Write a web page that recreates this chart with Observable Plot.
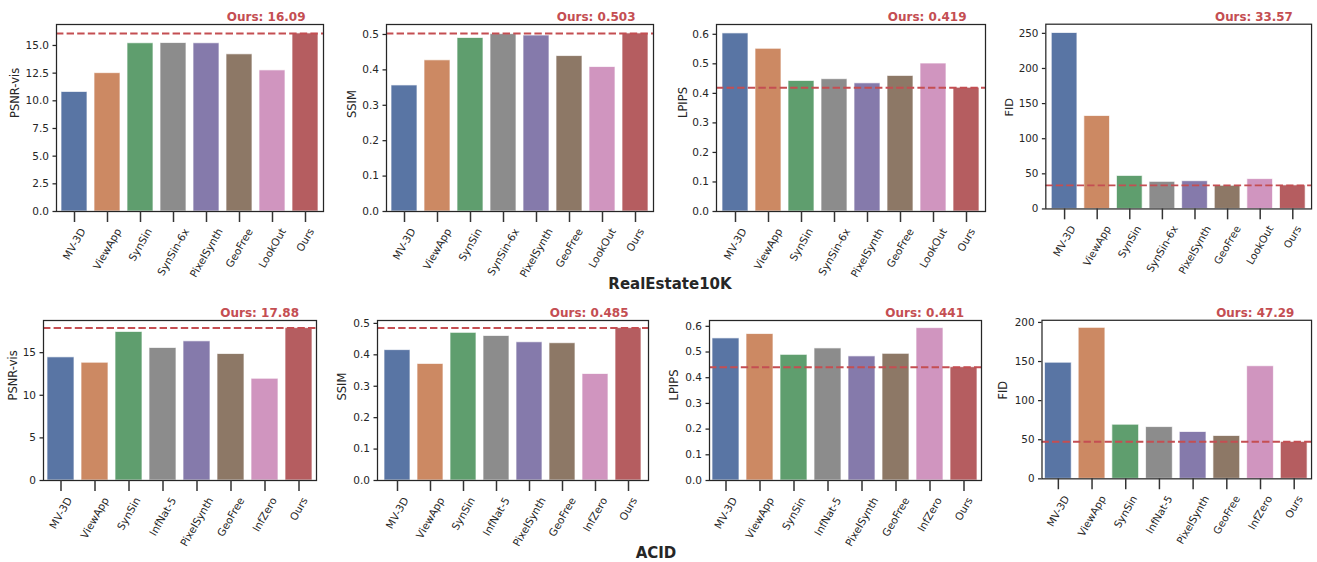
<!DOCTYPE html>
<html>
<head>
<meta charset="utf-8">
<script src="https://cdn.jsdelivr.net/npm/d3@7"></script>
<script src="https://cdn.jsdelivr.net/npm/@observablehq/plot@0.6"></script>
<style>
  html, body { margin: 0; padding: 0; background: #fff; }
  #root { position: relative; width: 1317px; height: 562px; overflow: hidden; font-family: "DejaVu Sans", sans-serif; }
  .panel { position: absolute; }
  .title { position: absolute; font-weight: bold; font-size: 15px; color: #262626; transform: translate(-50%, -50%); white-space: nowrap; }
</style>
</head>
<body>
<div id="root"></div>
<script>
// ---------- data ----------
const methodsRE = ["MV-3D", "ViewApp", "SynSin", "SynSin-6x", "PixelSynth", "GeoFree", "LookOut", "Ours"];
const methodsACID = ["MV-3D", "ViewApp", "SynSin", "InfNat-5", "PixelSynth", "GeoFree", "InfZero", "Ours"];

const psnrRE  = [10.8, 12.5, 15.2, 15.22, 15.2, 14.2, 12.75, 16.09];
const ssimRE  = [0.356, 0.427, 0.490, 0.501, 0.497, 0.439, 0.408, 0.503];
const lpipsRE = [0.603, 0.551, 0.442, 0.448, 0.434, 0.459, 0.501, 0.419];
const fidRE   = [250.5, 132.3, 47.0, 38.6, 39.5, 33.0, 42.5, 33.57];

const psnrACID  = [14.45, 13.82, 17.43, 15.55, 16.33, 14.84, 11.94, 17.88];
const ssimACID  = [0.415, 0.371, 0.470, 0.460, 0.440, 0.437, 0.339, 0.485];
const lpipsACID = [0.553, 0.570, 0.489, 0.514, 0.483, 0.493, 0.593, 0.441];
const fidACID   = [148.5, 193.1, 69.2, 66.2, 59.9, 54.8, 144.0, 47.29];

const metricLabels = ["PSNR-vis", "SSIM", "LPIPS", "FID"];
const oursDecimals = [2, 3, 3, 2];

const ticksPsnrRE = [0, 2.5, 5, 7.5, 10, 12.5, 15];
const ticksPsnrACID = [0, 5, 10, 15];
const ticksSsim = [0, 0.1, 0.2, 0.3, 0.4, 0.5];
const ticksLpips = [0, 0.1, 0.2, 0.3, 0.4, 0.5, 0.6];
const ticksFidRE = [0, 50, 100, 150, 200, 250];
const ticksFidACID = [0, 50, 100, 150, 200];
const tickFormats = [".1f", ".1f", ".1f", "d"];
const tickFormatsACID = ["d", ".1f", ".1f", "d"];

const datasetTitles = ["RealEstate10K", "ACID"];

const palette = ["#5975a4", "#cc8963", "#5f9e6e", "#8c8c8c", "#857aab", "#8d7866", "#d095bf", "#b55d60"];
const refColor = "#c44e52";

// ---------- layout (frame boxes in page pixels) ----------
const ML = 56, MT = 24, MR = 6, MB = 76;
const TICK_FONT = 10.5;
const X_TICK_LEN = 11;
const panels = [
  {methods: methodsRE, values: psnrRE, m: 0, ticks: ticksPsnrRE, fmt: tickFormats[0], fx: 56, fy: 24, fw: 267, fh: 187, lab: 41},
  {methods: methodsRE, values: ssimRE, m: 1, ticks: ticksSsim, fmt: tickFormats[1], fx: 386, fy: 24, fw: 267, fh: 187, lab: 34},
  {methods: methodsRE, values: lpipsRE, m: 2, ticks: ticksLpips, fmt: tickFormats[2], fx: 716, fy: 24, fw: 269, fh: 187, lab: 33},
  {methods: methodsRE, values: fidRE, m: 3, ticks: ticksFidRE, fmt: tickFormats[3], fx: 1046, fy: 24, fw: 269, fh: 187, lab: 37},
  {methods: methodsACID, values: psnrACID, m: 0, ticks: ticksPsnrACID, fmt: tickFormatsACID[0], fx: 43, fy: 320, fw: 273, fh: 160, lab: 30},
  {methods: methodsACID, values: ssimACID, m: 1, ticks: ticksSsim, fmt: tickFormatsACID[1], fx: 377, fy: 320, fw: 271, fh: 160, lab: 35},
  {methods: methodsACID, values: lpipsACID, m: 2, ticks: ticksLpips, fmt: tickFormatsACID[2], fx: 709, fy: 320, fw: 272, fh: 160, lab: 35},
  {methods: methodsACID, values: fidACID, m: 3, ticks: ticksFidACID, fmt: tickFormatsACID[3], fx: 1042, fy: 320, fw: 272, fh: 160, lab: 39}
];

// text width measurement (for matplotlib-like centred rotated tick labels)
const ctx = document.createElement("canvas").getContext("2d");
ctx.font = `${TICK_FONT}px "DejaVu Sans"`;
const textWidth = s => ctx.measureText(s).width;

const root = document.getElementById("root");

for (const p of panels) {
  const rows = p.methods.map((m, i) => ({method: m, value: p.values[i]}));
  const maxV = d3.max(p.values);
  const ymax = maxV * 1.05;
  const ours = rows[rows.length - 1];
  const oursText = "Ours: " + ours.value.toFixed(oursDecimals[p.m]);

  const lineH = TICK_FONT * 1.2;
  const xLabelMarks = rows.map(r => Plot.text([r], {
    x: "method", frameAnchor: "bottom", text: "method",
    rotate: -60, textAnchor: "end", lineAnchor: "middle",
    dx: textWidth(r.method) / 4, dy: X_TICK_LEN + 3.7 + 0.25 * lineH,
    fontSize: TICK_FONT, fill: "#262626"
  }));

  const chart = Plot.plot({
    width: ML + p.fw + MR,
    height: MT + p.fh + MB,
    marginLeft: ML, marginTop: MT, marginRight: MR, marginBottom: MB,
    style: {fontFamily: "DejaVu Sans", fontSize: TICK_FONT + "px", color: "#262626", background: "transparent", overflow: "visible"},
    x: {domain: p.methods, paddingInner: 0.2, paddingOuter: 0.1},
    y: {domain: [0, ymax]},
    color: {domain: p.methods, range: palette},
    marks: [
      Plot.barY(rows, {x: "method", y: "value", fill: "method", stroke: "white", strokeWidth: 1, strokeOpacity: 0.7}),
      Plot.ruleY([ours.value], {stroke: refColor, strokeWidth: 2, strokeDasharray: "7.4,3.2"}),
      Plot.frame({stroke: "#262626", strokeWidth: 1.25}),
      Plot.axisY({ticks: p.ticks, tickFormat: d3.format(p.fmt), tickSize: 3.5, tickPadding: 4, label: null, stroke: "#262626", strokeWidth: 1.25}),
      Plot.axisX({tickSize: X_TICK_LEN, tickFormat: () => "", label: null, stroke: "#333", strokeWidth: 1.5}),
      ...xLabelMarks,
      Plot.text([metricLabels[p.m]], {frameAnchor: "left", dx: -p.lab, rotate: -90, text: d => d, fontSize: 11.5, fill: "#262626"}),
      Plot.text([ours], {x: "method", y: () => ymax, dy: -7, text: () => oursText, textAnchor: "end", fill: refColor, fontWeight: "bold", fontSize: 12})
    ]
  });
  const div = document.createElement("div");
  div.className = "panel";
  div.style.left = (p.fx - ML) + "px";
  div.style.top = (p.fy - MT) + "px";
  div.appendChild(chart);
  root.appendChild(div);
}

const titlePos = [[670, 284], [656, 553]];
datasetTitles.forEach((t, i) => {
  const d = document.createElement("div");
  d.className = "title";
  d.textContent = t;
  d.style.left = titlePos[i][0] + "px";
  d.style.top = titlePos[i][1] + "px";
  root.appendChild(d);
});
</script>
</body>
</html>
